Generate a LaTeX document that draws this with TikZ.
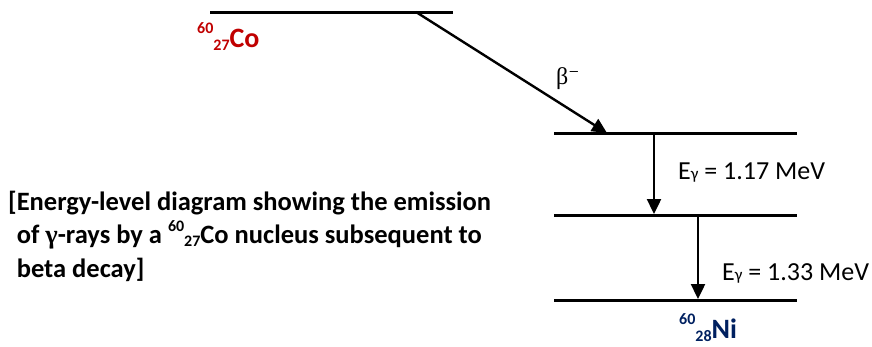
\documentclass[tikz,border=0pt]{standalone}
\usepackage{fontspec}
\setmainfont{Carlito}
\newfontfamily\betafont{Liberation Serif}
\newfontfamily\symfont{DejaVu Sans}
\usetikzlibrary{arrows.meta}
\definecolor{cored}{RGB}{192,0,0}
\definecolor{niblue}{RGB}{0,32,96}
\newcommand{\isup}[1]{\raisebox{0.5em}{\fontsize{16}{16}\selectfont #1}}
\newcommand{\isub}[1]{\raisebox{-0.12em}{\fontsize{16}{16}\selectfont #1}}
\newcommand{\capsup}[1]{\raisebox{0.45em}{\fontsize{16}{16}\selectfont #1}}
\newcommand{\capsub}[1]{\raisebox{-0.12em}{\fontsize{16}{16}\selectfont #1}}
\newcommand{\egam}{E{\fontsize{17}{17}\selectfont γ}}
\begin{document}
\begin{tikzpicture}[x=1pt,y=-1pt,
  level/.style={line width=3pt},
  decay/.style={line width=2.4pt,-{Triangle[length=15pt,width=14pt]}},
  lbl/.style={inner sep=0pt,anchor=base west,font=\fontsize{26}{28}\selectfont}]
\useasboundingbox (0,0) rectangle (872,346);
% levels
\coordinate (coL) at (210,12);
\coordinate (coR) at (453,12);
\coordinate (l1L) at (554,133);
\coordinate (l1R) at (797,133);
\coordinate (l2L) at (554,215);
\coordinate (l2R) at (797,215);
\coordinate (l3L) at (554,300);
\coordinate (l3R) at (797,300);
\draw[level] (coL) -- (coR);
\draw[level] (l1L) -- (l1R);
\draw[level] (l2L) -- (l2R);
\draw[level] (l3L) -- (l3R);
% transitions
\coordinate (bS) at (416,12);
\coordinate (bE) at (607,133);
\coordinate (g1S) at (654,133);
\coordinate (g1E) at (654,214);
\coordinate (g2S) at (698,215);
\coordinate (g2E) at (698,299);
\draw[decay] (bS) -- (bE);
\draw[decay] (g1S) -- (g1E);
\draw[decay] (g2S) -- (g2E);
% labels
\node[lbl,text=cored,font=\fontsize{28}{30}\selectfont\bfseries] (co) at (197,47) {\isup{60}\isub{27}Co};
\node[lbl,text=niblue,font=\fontsize{28}{30}\selectfont\bfseries] (ni) at (679,338) {\isup{60}\isub{28}Ni};
\node[lbl,font=\fontsize{24}{26}\selectfont\betafont] (beta) at (556,84) {β\raisebox{0.08em}{\symfont\fontsize{21}{21}\selectfont ⁻}};
\node[lbl] (e1) at (678,179) {\egam{} = 1.17 MeV};
\node[lbl] (e2) at (722,280) {\egam{} = 1.33 MeV};
\node[inner sep=0pt,anchor=base west,align=left,font=\fontsize{26.5}{33.5}\selectfont\bfseries] (cap) at (8,277)
 {[Energy-level diagram showing the emission\\
  \phantom{[}of {\betafont γ}-rays by a \capsup{60}\capsub{27}Co nucleus subsequent to\\
  \phantom{[}beta decay]};
\end{tikzpicture}
\end{document}
